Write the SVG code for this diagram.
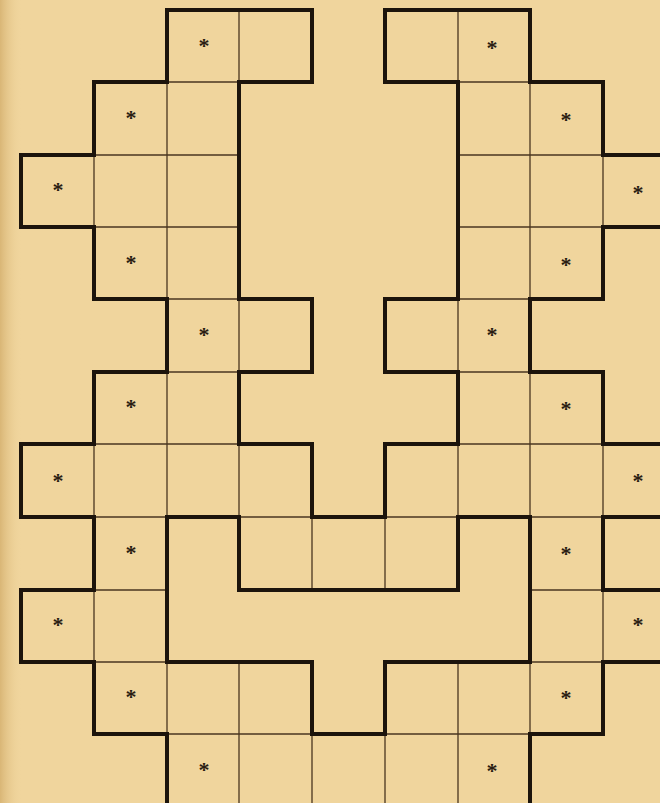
<svg xmlns="http://www.w3.org/2000/svg" width="660" height="803" viewBox="0 0 660 803">
<defs>
<linearGradient id="edge" x1="0" y1="0" x2="1" y2="0">
<stop offset="0" stop-color="#d9b676"/>
<stop offset="1" stop-color="#f0d59d" stop-opacity="0"/>
</linearGradient>
<style>
.thick{stroke:#1c140c;stroke-width:4;fill:none;stroke-linecap:square}
.thin{stroke:#4a3620;stroke-width:1.3;fill:none}
.star{font-family:"Liberation Serif","DejaVu Serif",serif;font-size:22px;font-weight:bold;fill:#2a1e12;text-anchor:middle}
</style>
</defs>
<rect width="660" height="803" fill="#f0d59d"/>
<rect width="22" height="803" fill="url(#edge)"/>
<g id="thin-lines" class="thin">
<path d="M167 82H239M458 82H530
M94 155H239M458 155H603
M94 227H239M458 227H603
M167 299H239M458 299H530
M167 372H239M458 372H530
M94 444H239M458 444H603
M94 517H167M239 517H312M385 517H458M530 517H603
M94 590H167M530 590H603
M94 662H167M530 662H603
M167 734H312M385 734H530"/>
<path d="M94 155V227M94 444V517M94 590V662
M167 82V299M167 372V517M167 662V734
M239 10V82M239 299V372M239 444V517M239 662V803
M312 517V590M312 734V803
M385 517V590M385 734V803
M458 10V82M458 299V372M458 444V517M458 662V803
M530 82V299M530 372V517M530 662V734
M603 155V227M603 444V517M603 590V662"/>
</g>
<g id="thick-lines" class="thick">
<path d="M167 10H312M385 10H530
M94 82H167M239 82H312M385 82H458M530 82H603
M21 155H94M603 155H676
M21 227H94M603 227H676
M94 299H167M239 299H312M385 299H458M530 299H603
M94 372H167M239 372H312M385 372H458M530 372H603
M21 444H94M239 444H312M385 444H458M603 444H676
M21 517H94M167 517H239M312 517H385M458 517H530M603 517H676
M21 590H94M239 590H458M603 590H676
M21 662H94M167 662H312M385 662H530M603 662H676
M94 734H167M312 734H385M530 734H603"/>
<path d="M21 155V227M21 444V517M21 590V662
M94 82V155M94 227V299M94 372V444M94 517V590M94 662V734
M167 10V82M167 299V372M167 517V662M167 734V806
M239 82V299M239 372V444M239 517V590
M312 10V82M312 299V372M312 444V517M312 662V734
M385 10V82M385 299V372M385 444V517M385 662V734
M458 82V299M458 372V444M458 517V590
M530 10V82M530 299V372M530 517V662M530 734V806
M603 82V155M603 227V299M603 372V444M603 517V590M603 662V734"/>
</g>
<g id="stars" class="star">
<text x="204" y="53">*</text>
<text x="492" y="55">*</text>
<text x="131" y="125">*</text>
<text x="566" y="127">*</text>
<text x="58" y="197">*</text>
<text x="638" y="200">*</text>
<text x="131" y="270">*</text>
<text x="566" y="272">*</text>
<text x="204" y="342">*</text>
<text x="492" y="342">*</text>
<text x="131" y="414">*</text>
<text x="566" y="416">*</text>
<text x="58" y="488">*</text>
<text x="638" y="488">*</text>
<text x="131" y="560">*</text>
<text x="566" y="561">*</text>
<text x="58" y="632">*</text>
<text x="638" y="632">*</text>
<text x="131" y="704">*</text>
<text x="566" y="705">*</text>
<text x="204" y="777">*</text>
<text x="492" y="778">*</text>
</g>
</svg>
